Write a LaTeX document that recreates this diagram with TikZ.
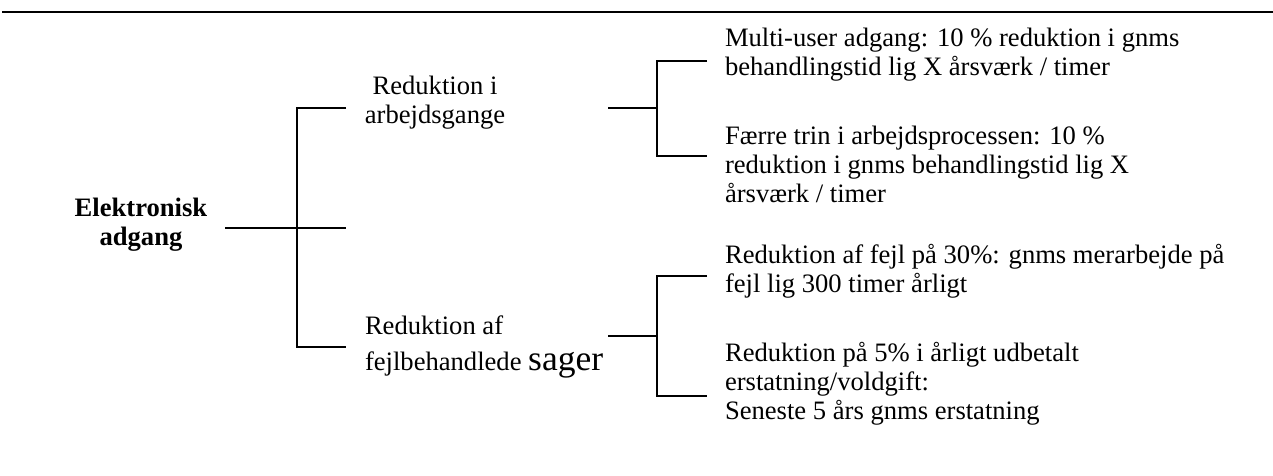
\documentclass[tikz,border=0pt]{standalone}
\usepackage{fontspec}
\setmainfont{Liberation Serif}
\begin{document}
\begin{tikzpicture}[x=1pt,y=-1pt,
  txt/.style={inner sep=0pt,outer sep=0pt,font=\fontsize{26.6pt}{29pt}\selectfont},
  leaf/.style={txt,align=left,anchor=base west},
  conn/.style={line width=2pt,line join=miter,line cap=butt},
  rule/.style={line width=2.2pt}]
\useasboundingbox (0,0) rectangle (1273,475);
% top rule
\coordinate (ruleL) at (2,12);
\coordinate (ruleR) at (1273,12);
\draw[rule] (ruleL) -- (ruleR);
% texts
\node[txt,align=center,anchor=base,font=\fontsize{26.6pt}{29pt}\selectfont\bfseries] (root) at (141,245) {Elektronisk\\adgang};
\node[txt,align=center,anchor=base] (mA) at (435,123) {Reduktion i\\arbejdsgange};
\node[leaf] (mB) at (365,370) {Reduktion af\\[7pt]fejlbehandlede {\fontsize{35.5pt}{38pt}\selectfont sager}};
\node[leaf] (l1) at (725,75) {Multi-user adgang: 10 \% reduktion i gnms\\behandlingstid lig X årsværk / timer};
\node[leaf] (l2) at (725,202) {Færre trin i arbejdsprocessen: 10 \%\\reduktion i gnms behandlingstid lig X\\årsværk / timer};
\node[leaf] (l3) at (725,292) {Reduktion af fejl på 30\%: gnms merarbejde på\\fejl lig 300 timer årligt};
\node[leaf] (l4) at (725,419) {Reduktion på 5\% i årligt udbetalt\\erstatning/voldgift:\\Seneste 5 års gnms erstatning};
% first-level bracket
\coordinate (r0) at (225,228);
\coordinate (j1t) at (297,108);
\coordinate (j1b) at (297,347);
\coordinate (s1) at (346,108);
\coordinate (s2) at (346,228);
\coordinate (s3) at (346,347);
\draw[conn] (r0) -- (s2);
\draw[conn] (s1) -- (j1t) -- (j1b) -- (s3);
% second-level bracket, top
\coordinate (a0) at (608,108);
\coordinate (aj) at (657,108);
\coordinate (at) at (657,61);
\coordinate (ab) at (657,156);
\coordinate (a1) at (707,61);
\coordinate (a2) at (707,156);
\draw[conn] (a0) -- (aj);
\draw[conn] (a1) -- (at) -- (ab) -- (a2);
% second-level bracket, bottom
\coordinate (b0) at (608,336);
\coordinate (bj) at (657,336);
\coordinate (bt) at (657,276);
\coordinate (bb) at (657,396);
\coordinate (b1) at (707,276);
\coordinate (b2) at (707,396);
\draw[conn] (b0) -- (bj);
\draw[conn] (b1) -- (bt) -- (bb) -- (b2);
\end{tikzpicture}
\end{document}
